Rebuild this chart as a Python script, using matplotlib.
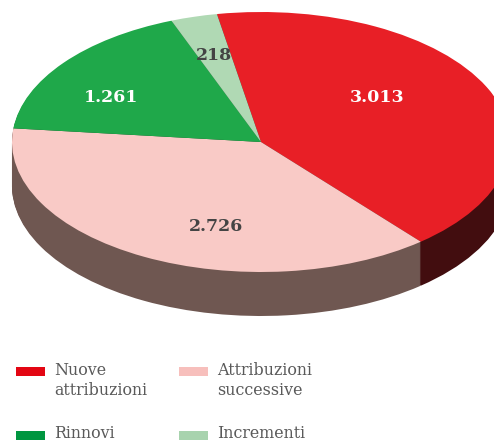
import matplotlib
matplotlib.use("Agg")
import matplotlib.pyplot as plt
from matplotlib.patches import Rectangle
import numpy as np

categorie = ["Nuove\nattribuzioni", "Attribuzioni\nsuccessive", "Rinnovi", "Incrementi"]
valori = [3013, 2726, 1261, 218]
colori = ["#e81f26", "#f9cac6", "#1fa84a", "#b0d9b4"]
colori_lato = ["#420d0f", "#6f5751", "#0c4a20", "#4e6650"]
colori_legenda = ["#e30613", "#f7bfbc", "#009640", "#a8d3ae"]
colori_testo = ["white", "#444444", "white", "#444444"]

W, H = 494, 441
# centro e raggi dell'ellisse in pixel
cx, cy, rx, ry = 261, 142, 249, 130
spessore = 44
inizio = 100.2

fig = plt.figure(figsize=(W / 100, H / 100), dpi=100)
ax = fig.add_axes([0, 0, 1, 1])

# lato del disco: tante torte sovrapposte
for d in np.arange(spessore, 0, -1):
    ax.pie(valori, colors=colori_lato, startangle=inizio, counterclock=False,
           center=(0, -d / ry), wedgeprops={"linewidth": 0.5, "edgecolor": "none"})
ax.pie(valori, colors=colori, startangle=inizio, counterclock=False)

ax.set_aspect("auto")
ax.set_xlim(-cx / rx, (W - cx) / rx)
ax.set_ylim((cy - H) / ry, cy / ry)
ax.axis("off")

# etichette
pos_etichette = [(377, 97), (216, 226), (111, 98), (214, 56)]
for v, (x, y), c in zip(valori, pos_etichette, colori_testo):
    testo = f"{v:,}".replace(",", ".")
    fig.text(x / W, 1 - y / H, testo, color=c, fontsize=12.5, fontweight="bold",
             family="DejaVu Serif", ha="center", va="center")

# legenda
pos_legenda = [(16, 371), (179, 371), (16, 435), (179, 435)]
pos_testo = [362, 362, 425, 425]
for nome, col, (x, y), yt in zip(categorie, colori_legenda, pos_legenda, pos_testo):
    fig.patches.append(Rectangle((x / W, 1 - (y + 4.5) / H), 29 / W, 9 / H,
                                 transform=fig.transFigure, facecolor=col, edgecolor="none"))
    fig.text((x + 38.5) / W, 1 - yt / H, nome, color="#5a5a5a", fontsize=11.4,
             family="DejaVu Serif", ha="left", va="top", linespacing=1.22)

fig.savefig("out.png", dpi=100)
